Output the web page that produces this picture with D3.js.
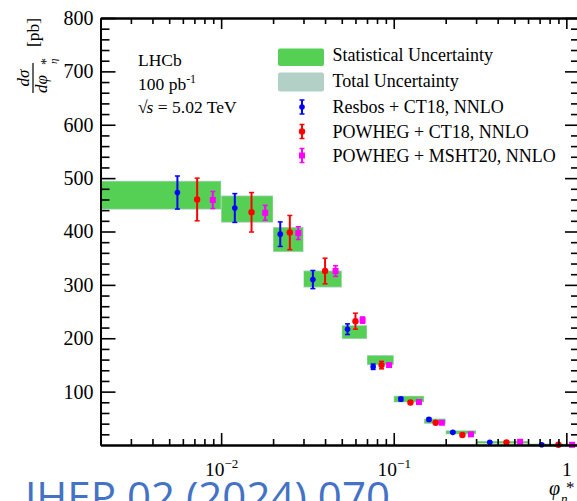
<!DOCTYPE html>
<html>
<head>
<meta charset="utf-8">
<script src="https://cdn.jsdelivr.net/npm/d3@7"></script>
<style>
  body { margin: 0; background: #fff; }
  svg { display: block; }
</style>
</head>
<body>
<svg id="chart" width="577" height="501"></svg>
<script>
// phi*_eta binning (first bin starts at 0; it is cut at the left edge of the log axis)
const binEdges = [0, 0.01, 0.02, 0.03, 0.05, 0.07, 0.1, 0.15, 0.2, 0.3, 0.6, 1.2];

// Measured dsigma/dphi* [pb] with statistical and total uncertainties
const dataValues = [468, 442, 385, 311, 211.5, 159, 86, 44.6, 23.7, 5, 1];
const statErr    = [25.5, 24, 22, 14.5, 11.5, 8, 5, 3.6, 2.6, 1.4, 0.8];
const totalErr   = [27, 25.5, 23.5, 16, 13, 9.5, 6.2, 5, 3.8, 2.4, 1.6];

// Theory predictions: x position inside each bin, value, uncertainty
const resbosX   = [0.00558, 0.012, 0.022, 0.034, 0.054, 0.076, 0.11, 0.16, 0.22, 0.36, 0.72];
const resbosY   = [473, 444, 395, 310, 217, 146.6, 86, 48, 23.7, 5, 0.4];
const resbosErr = [31, 27, 23, 17, 10, 5, 3.5, 2.5, 1.6, 1, 0.8];

const powCtX   = [0.00726, 0.015, 0.025, 0.04, 0.06, 0.085, 0.125, 0.175, 0.25, 0.45, 0.9];
const powCtY   = [460, 436, 398, 326, 232, 149.7, 79.5, 41.7, 18.7, 5, 0.4];
const powCtErr = [40, 37, 32, 24, 15, 7, 3.2, 2.2, 1.4, 0.8, 0.4];

const powMsX   = [0.00895, 0.018, 0.028, 0.046, 0.066, 0.094, 0.14, 0.19, 0.28, 0.54, 1.08];
const powMsY   = [459, 435, 397, 326, 234, 149.7, 80.5, 41.7, 20, 6, 0.4];
const powMsErr = [16, 14, 12, 10, 6, 3, 2, 1.5, 1, 0.6, 0.3];

// Axis ticks and labels
const xTickValues = [0.01, 0.1, 1];
const xTickLabels = [["10", "\u22122"], ["10", "\u22121"], ["1", ""]];
const yTickValues = [100, 200, 300, 400, 500, 600, 700, 800];
const yMinorValues = d3.range(20, 800, 20).filter(v => v % 100 !== 0);

const legendLabels = [
  "Statistical Uncertainty",
  "Total Uncertainty",
  "Resbos + CT18, NNLO",
  "POWHEG + CT18, NNLO",
  "POWHEG + MSHT20, NNLO"
];

const serif = "'Liberation Serif', 'Times New Roman', serif";
const cGreen = "#55d055";
const cTotal = "#b3d0c6";
const cBlue = "#0000ff", cRed = "#ff0000", cMag = "#ff00ff";

const svg = d3.select("#chart");
const x = d3.scaleLog().domain([0.002, 1.2]).range([100.5, 580]);
const y = d3.scaleLinear().domain([0, 800]).range([445, 18]);
const xMin = x.domain()[0];
const xMinorValues = [-3, -2, -1]
  .flatMap(e => d3.range(2, 10).map(m => +(m * Math.pow(10, e)).toPrecision(3)))
  .filter(v => v > xMin && v < x.domain()[1]);

// ---- uncertainty boxes ----
const bins = dataValues.map((v, i) => ({
  lo: Math.max(binEdges[i], xMin), hi: binEdges[i + 1], v, s: statErr[i], t: totalErr[i]
}));
const boxes = svg.append("g");
boxes.selectAll("rect.tot").data(bins).join("rect")
  .attr("x", d => x(d.lo)).attr("width", d => x(d.hi) - x(d.lo))
  .attr("y", d => y(d.v + d.t)).attr("height", d => y(d.v - d.t) - y(d.v + d.t))
  .attr("fill", cTotal);
boxes.selectAll("rect.stat").data(bins).join("rect")
  .attr("x", d => x(d.lo) + 0.5).attr("width", d => x(d.hi) - x(d.lo) - 1)
  .attr("y", d => y(d.v + d.s)).attr("height", d => y(d.v - d.s) - y(d.v + d.s))
  .attr("fill", cGreen);

// ---- theory points ----
function drawSeries(xs, ys, es, color, shape) {
  const g = svg.append("g");
  const pts = xs.map((xv, i) => ({ x: xv, y: ys[i], e: es[i] }));
  const item = g.selectAll("g").data(pts).join("g")
    .attr("transform", d => `translate(${x(d.x)},0)`);
  item.append("line").attr("x1", 0).attr("x2", 0)
    .attr("y1", d => y(d.y + d.e)).attr("y2", d => y(d.y - d.e))
    .attr("stroke", color).attr("stroke-width", 2);
  [1, -1].forEach(sg => item.append("line")
    .attr("x1", -2.5).attr("x2", 2.5)
    .attr("y1", d => y(d.y + sg * d.e)).attr("y2", d => y(d.y + sg * d.e))
    .attr("stroke", color).attr("stroke-width", 1.5));
  if (shape === "square") {
    item.append("rect").attr("x", -3).attr("width", 6)
      .attr("y", d => y(d.y) - 3).attr("height", 6).attr("fill", color);
  } else {
    item.append("circle").attr("cx", 0).attr("cy", d => y(d.y))
      .attr("r", shape === "big" ? 3.2 : 2.8).attr("fill", color);
  }
}
drawSeries(resbosX, resbosY, resbosErr, cBlue, "circle");
drawSeries(powCtX, powCtY, powCtErr, cRed, "big");
drawSeries(powMsX, powMsY, powMsErr, cMag, "square");

// ---- axes (ticks pointing into the frame) ----
function styleAxis(g) {
  g.select(".domain").attr("stroke", "#000").attr("stroke-width", 2);
  g.selectAll(".tick line").attr("stroke", "#000").attr("stroke-width", 1.6);
}
const axes = svg.append("g");
// bottom
const bottomMajor = axes.append("g").attr("transform", `translate(0,${y(0)})`)
  .call(d3.axisBottom(x).tickValues(xTickValues).tickSizeInner(-12).tickSizeOuter(0)
    .tickPadding(18).tickFormat(""))
  .call(styleAxis);
axes.append("g").attr("transform", `translate(0,${y(0)})`)
  .call(d3.axisBottom(x).tickValues(xMinorValues).tickSizeInner(-6).tickSizeOuter(0).tickFormat(""))
  .call(styleAxis);
bottomMajor.selectAll(".tick").each(function (d, i) {
  const t = d3.select(this).append("text")
    .attr("y", 31).attr("text-anchor", "middle")
    .attr("font-family", serif).attr("font-size", 19.5).attr("fill", "#000");
  t.append("tspan").text(xTickLabels[i][0]);
  if (xTickLabels[i][1]) t.append("tspan").attr("dy", -8).attr("font-size", 13).text(xTickLabels[i][1]);
});
// top
axes.append("g").attr("transform", `translate(0,${y(800)})`)
  .call(d3.axisTop(x).tickValues(xTickValues).tickSizeInner(-11).tickSizeOuter(0).tickFormat(""))
  .call(styleAxis);
axes.append("g").attr("transform", `translate(0,${y(800)})`)
  .call(d3.axisTop(x).tickValues(xMinorValues).tickSizeInner(-6).tickSizeOuter(0).tickFormat(""))
  .call(styleAxis);
// left
axes.append("g").attr("transform", `translate(${x(xMin)},0)`)
  .call(d3.axisLeft(y).tickValues(yTickValues).tickSizeInner(-15).tickSizeOuter(0).tickPadding(7))
  .call(styleAxis)
  .call(g => g.selectAll(".tick text").attr("font-family", serif).attr("font-size", 20).attr("fill", "#000"));
axes.append("g").attr("transform", `translate(${x(xMin)},0)`)
  .call(d3.axisLeft(y).tickValues(yMinorValues).tickSizeInner(-9).tickSizeOuter(0).tickFormat(""))
  .call(styleAxis);
// right
axes.append("g").attr("transform", `translate(${x.range()[1]},0)`)
  .call(d3.axisRight(y).tickValues(yTickValues).tickSizeInner(-15).tickSizeOuter(0).tickFormat(""))
  .call(styleAxis);
axes.append("g").attr("transform", `translate(${x.range()[1]},0)`)
  .call(d3.axisRight(y).tickValues(yMinorValues).tickSizeInner(-9).tickSizeOuter(0).tickFormat(""))
  .call(styleAxis);

// ---- axis titles ----
const yt = svg.append("g").attr("transform", "translate(33,78) rotate(-90)")
  .attr("font-family", serif).attr("fill", "#000");
yt.append("text").attr("x", 0).attr("y", -4).attr("text-anchor", "middle")
  .attr("font-style", "italic").attr("font-size", 17).text("d\u03c3");
yt.append("line").attr("x1", -15).attr("x2", 15).attr("y1", 0).attr("y2", 0)
  .attr("stroke", "#000").attr("stroke-width", 1.2);
yt.append("text").attr("x", -15).attr("y", 14).attr("font-style", "italic")
  .attr("font-size", 17).text("d\u03c6");
yt.append("text").attr("x", 13).attr("y", 18).attr("font-size", 14).text("*");
yt.append("text").attr("x", 14).attr("y", 24).attr("font-style", "italic")
  .attr("font-size", 11).text("\u03b7");
yt.append("text").attr("x", 31).attr("y", 6).attr("font-size", 17.5).text("[pb]");

const xt = svg.append("g").attr("font-family", serif).attr("fill", "#000");
xt.append("text").attr("x", 549).attr("y", 495).attr("font-style", "italic")
  .attr("font-size", 20).text("\u03c6");
xt.append("text").attr("x", 561).attr("y", 503).attr("font-style", "italic")
  .attr("font-size", 13).text("\u03b7");
xt.append("text").attr("x", 566).attr("y", 493).attr("font-size", 17).text("*");

// ---- experiment label ----
const lab = svg.append("g").attr("font-family", serif).attr("font-size", 17.5).attr("fill", "#000");
lab.append("text").attr("x", 138).attr("y", 66).text("LHCb");
const lumi = lab.append("text").attr("x", 138).attr("y", 90);
lumi.append("tspan").text("100 pb");
lumi.append("tspan").attr("dy", -7).attr("font-size", 12).text("-1");
const rs = lab.append("text").attr("x", 138).attr("y", 113);
rs.append("tspan").text("\u221a");
rs.append("tspan").attr("font-style", "italic").attr("dx", -1).text("s");
rs.append("tspan").text(" = 5.02 TeV");

// ---- legend ----
const leg = svg.append("g").attr("font-family", serif).attr("font-size", 18).attr("fill", "#000");
const legY = [61, 87, 113, 137.5, 161.5];
leg.append("rect").attr("x", 278).attr("y", 48.5).attr("width", 46).attr("height", 17.5)
  .attr("rx", 2).attr("fill", cGreen);
leg.append("rect").attr("x", 278).attr("y", 72.5).attr("width", 46).attr("height", 19)
  .attr("rx", 2).attr("fill", cTotal);
legendLabels.forEach((t, i) => leg.append("text").attr("x", 332.5).attr("y", legY[i]).text(t));
[[cBlue, "circle"], [cRed, "big"], [cMag, "square"]].forEach(([c, shape], i) => {
  const cy = legY[i + 2] - 6;
  const g = leg.append("g").attr("transform", `translate(302,${cy})`);
  g.append("line").attr("y1", -7).attr("y2", 7).attr("stroke", c).attr("stroke-width", 2);
  [-7, 7].forEach(v => g.append("line").attr("x1", -2.5).attr("x2", 2.5).attr("y1", v).attr("y2", v)
    .attr("stroke", c).attr("stroke-width", 1.5));
  if (shape === "square") g.append("rect").attr("x", -3).attr("y", -3).attr("width", 6).attr("height", 6).attr("fill", c);
  else g.append("circle").attr("r", shape === "big" ? 3.2 : 2.8).attr("fill", c);
});

// ---- journal reference ----
svg.append("text").attr("x", 25).attr("y", 512)
  .attr("font-family", "'Open Sans', 'Noto Sans', sans-serif").attr("font-size", 42)
  .attr("fill", "#4472c4").attr("textLength", 365).attr("lengthAdjust", "spacingAndGlyphs")
  .text("JHEP 02 (2024) 070");
</script>
</body>
</html>
